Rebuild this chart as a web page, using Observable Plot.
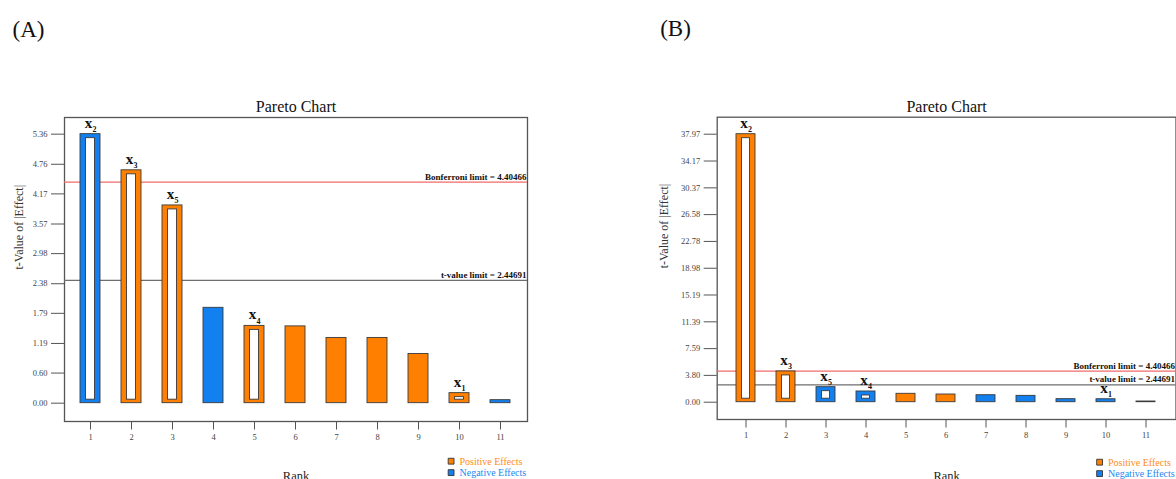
<!DOCTYPE html>
<html>
<head>
<meta charset="utf-8">
<script src="https://cdn.jsdelivr.net/npm/d3@7"></script>
<script src="https://cdn.jsdelivr.net/npm/@observablehq/plot@0.6"></script>
<style>
  html, body { margin: 0; padding: 0; background: white; }
  #wrap { position: relative; width: 1176px; height: 479px; overflow: hidden; background: white; }
  .panel { position: absolute; top: 0; }
  .panel svg { display: block; overflow: hidden; }
</style>
</head>
<body>
<div id="wrap">
  <div class="panel" id="pA" style="left:0px"></div>
  <div class="panel" id="pB" style="left:640px"></div>
</div>
<script>
// ---------- data ----------
const ranks = [1, 2, 3, 4, 5, 6, 7, 8, 9, 10, 11];

const tValuesA = [5.36, 4.64, 3.94, 1.90, 1.54, 1.53, 1.30, 1.30, 0.98, 0.20, 0.06];
const effectsA = ["Negative", "Positive", "Positive", "Negative", "Positive", "Positive",
                  "Positive", "Positive", "Positive", "Positive", "Negative"];
const termSubA = ["2", "3", "5", null, "4", null, null, null, null, "1", null];
const yTicksA = [0.00, 0.60, 1.19, 1.79, 2.38, 2.98, 3.57, 4.17, 4.76, 5.36];

const tValuesB = [37.97, 4.36, 2.13, 1.52, 1.19, 1.09, 0.99, 0.90, 0.43, 0.42, 0.10];
const effectsB = ["Positive", "Positive", "Negative", "Negative", "Positive", "Positive",
                  "Negative", "Negative", "Negative", "Negative", "Negative"];
const termSubB = ["2", "3", "5", "4", null, null, null, null, null, "1", null];
const yTicksB = [0.00, 3.80, 7.59, 11.39, 15.19, 18.98, 22.78, 26.58, 30.37, 34.17, 37.97];

const bonferroniLimit = 4.40466;
const tValueLimit = 2.44691;
const legendLabels = ["Positive Effects", "Negative Effects"];

// ---------- styling ----------
const ORANGE = "#ff8000";
const BLUE = "#1380f0";
const EDGE = "#3a3a3a";

function legendMarks(opts) {
  const items = [
    {label: legendLabels[0], color: ORANGE, text: "#ff8c1a"},
    {label: legendLabels[1], color: BLUE, text: "#1a88f5"}
  ];
  return items.flatMap((it, i) => [
    Plot.dot([it], {frameAnchor: "bottom-right", dx: -76.4, dy: opts.legDy + i * 11.4,
      symbol: "square", r: 3.3, fill: it.color, stroke: "#333", strokeWidth: 0.9}),
    Plot.text([it], {frameAnchor: "bottom-right", textAnchor: "start", lineAnchor: "bottom",
      dx: -68, dy: opts.legDy + 3.8 + i * 11.4, text: "label", fill: it.text, fontSize: 10})
  ]);
}

function panel(opts) {
  const rows = ranks.map((r, i) => ({rank: r, t: opts.values[i], effect: opts.effects[i], sub: opts.subs[i]}));
  const hollow = rows.filter(d => d.sub);
  return Plot.plot({
    width: opts.width,
    height: 479,
    marginLeft: opts.ml,
    marginRight: opts.mr,
    marginTop: opts.mt,
    marginBottom: opts.mb,
    style: {fontFamily: "'Liberation Serif', 'Times New Roman', serif", fontSize: "8.5px", color: "#444", background: "white"},
    x: {type: "band", domain: ranks, paddingInner: opts.pi, paddingOuter: opts.po, label: null},
    y: {domain: opts.yDomain, label: null},
    color: {domain: ["Positive", "Negative"], range: [ORANGE, BLUE]},
    marks: [
      Plot.frame({stroke: "#555", strokeWidth: 1.3}),
      Plot.axisY({ticks: opts.yTicks, tickFormat: d => d.toFixed(2), tickSize: 13, tickPadding: 4, stroke: "#555", fill: "#444", fontSize: 8.5, label: null}),
      Plot.axisX({ticks: ranks, tickSize: 8.5, tickPadding: 4, stroke: "#555", fill: "#444", fontSize: 8.5, label: null}),
      Plot.ruleY([tValueLimit], {stroke: "#6e6e6e", strokeWidth: 1.3}),
      Plot.ruleY([bonferroniLimit], {stroke: "#f26b6b", strokeWidth: 1.3}),
      Plot.barY(rows, {x: "rank", y: "t", fill: "effect", stroke: EDGE, strokeWidth: 0.9}),
      Plot.barY(hollow, {x: "rank", y: "t", fill: "white", stroke: EDGE, strokeWidth: 0.9,
        insetLeft: 5.5, insetRight: 5.5, insetTop: 4, insetBottom: 3.5}),
      Plot.text(hollow, {x: "rank", y: "t", text: () => "x", dx: -2, dy: -6.5, lineAnchor: "bottom",
        fontWeight: "bold", fontSize: 15, fill: "#111"}),
      Plot.text(hollow, {x: "rank", y: "t", text: "sub", dx: 4, dy: -2, lineAnchor: "bottom",
        fontWeight: "bold", fontSize: 8, fill: "#111"}),
      Plot.text([bonferroniLimit], {y: d => d, frameAnchor: "right", textAnchor: "end", lineAnchor: "bottom",
        dx: -1, dy: -2.5, text: d => `Bonferroni limit = ${d}`, fontWeight: "bold", fontSize: 9, fill: "#111"}),
      Plot.text([tValueLimit], {y: d => d, frameAnchor: "right", textAnchor: "end", lineAnchor: "bottom",
        dx: -1, dy: -2.5, text: d => `t-value limit = ${d}`, fontWeight: "bold", fontSize: 9, fill: "#111"}),
      Plot.text(["Pareto Chart"], {frameAnchor: "top", lineAnchor: "bottom", dy: -5.5, fontSize: 16, fill: "#111"}),
      Plot.text([opts.letter], {frameAnchor: "top-left", textAnchor: "start", lineAnchor: "bottom",
        dx: opts.letterDx, dy: -81, fontSize: 23, fill: "#111"}),
      Plot.text(["t-Value of |Effect|"], {frameAnchor: "left", rotate: -90, dx: opts.ylabDx, fontSize: 12, fill: "#333"}),
      Plot.text(["Rank"], {frameAnchor: "bottom", lineAnchor: "bottom", dy: opts.rankDy, fontSize: 12.5, fill: "#222"}),
      ...legendMarks(opts)
    ]
  });
}

const optsA = {values: tValuesA, effects: effectsA, subs: termSubA, yTicks: yTicksA,
  yDomain: [-0.365, 5.692], width: 640, ml: 64, mr: 113, mt: 117, mb: 58, pi: 0.51, po: 0.39,
  letter: "(A)", letterDx: -52, ylabDx: -45, rankDy: 58, legDy: 39.7};
const optsB = {values: tValuesB, effects: effectsB, subs: termSubB, yTicks: yTicksB,
  yDomain: [-2.45, 40.38], width: 536, ml: 76.7, mr: 0.5, mt: 116.7, mb: 60, pi: 0.52, po: 0.387,
  letter: "(B)", letterDx: -57, ylabDx: -52.7, rankDy: 60, legDy: 42.7};

document.getElementById("pA").append(panel(optsA));
document.getElementById("pB").append(panel(optsB));
</script>
</body>
</html>
